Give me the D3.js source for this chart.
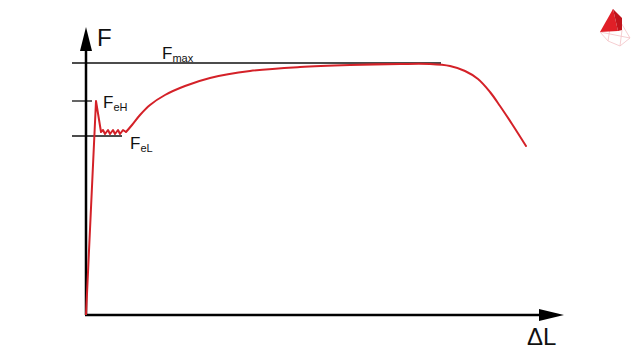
<!DOCTYPE html>
<html lang="en">
	<head>
		<meta charset="utf-8">
		<title>D3: Force-extension diagram</title>
		<script type="text/javascript" src="https://d3js.org/d3.v7.min.js"></script>
		<style type="text/css">
			body { margin: 0; background: #fff; }
			text { font-family: "Liberation Sans", Arial, sans-serif; fill: #111; }
		</style>
	</head>
	<body>
		<script type="text/javascript">

			//Width and height
			var w = 640;
			var h = 360;

			//Curve data: elongation (dL) and force (F), yield part drawn straight
			var yieldDL = [0, 10, 15, 17, 19, 22, 24, 27, 29, 32, 34, 37, 40];
			var yieldF  = [0, 214, 183, 185, 181, 185, 181, 185, 181, 185, 181, 185, 183];

			//Hardening and necking part drawn smooth
			var hardDL = [40, 46, 54, 64, 79, 99, 124, 164, 214, 264, 314, 344, 364, 379, 392, 404, 414, 426, 440];
			var hardF  = [183, 190, 200, 210, 220, 229, 237, 244, 248, 250, 251, 251, 249, 244, 236, 223, 209, 191, 169];

			//Reference levels
			var levelNames = ["max", "eH", "eL"];
			var levelF     = [252, 214, 179];
			var levelEnd   = [355, 6, 36];

			//Scales
			var x = d3.scaleLinear().domain([0, 477]).range([86, 563]);
			var y = d3.scaleLinear().domain([0, 287]).range([315, 28]);

			//Create SVG element
			var svg = d3.select("body")
			.append("svg")
			.attr("width", w)
			.attr("height", h);

			//Level lines
			svg.selectAll("line.level")
			   .data(levelF)
			   .enter()
			   .append("line")
			   .attr("class", "level")
			   .attr("x1", x(-14))
			   .attr("x2", function(d, i) { return x(levelEnd[i]); })
			   .attr("y1", function(d) { return y(d); })
			   .attr("y2", function(d) { return y(d); })
			   .attr("stroke", "#111")
			   .attr("stroke-width", 1.3);

			//Axes
			svg.append("line")
			   .attr("x1", x(0)).attr("y1", y(0))
			   .attr("x2", x(0)).attr("y2", y(270))
			   .attr("stroke", "#000").attr("stroke-width", 2.5);
			svg.append("line")
			   .attr("x1", x(0) - 1).attr("y1", y(0))
			   .attr("x2", x(460)).attr("y2", y(0))
			   .attr("stroke", "#000").attr("stroke-width", 2.5);

			//Arrow heads
			svg.append("path")
			   .attr("d", "M" + x(0) + "," + y(288) + "L" + (x(0) - 6) + "," + y(264) + "L" + (x(0) + 6) + "," + y(264) + "Z")
			   .attr("fill", "#000");
			svg.append("path")
			   .attr("d", "M" + x(478) + "," + y(0) + "L" + x(453) + "," + (y(0) - 6) + "L" + x(453) + "," + (y(0) + 6) + "Z")
			   .attr("fill", "#000");

			//Curve
			var lineLinear = d3.line()
			.x(function(d) { return x(d[0]); })
			.y(function(d) { return y(d[1]); });

			var lineSmooth = d3.line()
			.x(function(d) { return x(d[0]); })
			.y(function(d) { return y(d[1]); })
			.curve(d3.curveCatmullRom);

			svg.append("path")
			   .attr("d", lineLinear(d3.zip(yieldDL, yieldF)))
			   .attr("fill", "none")
			   .attr("stroke", "#d42128")
			   .attr("stroke-width", 2)
			   .attr("stroke-linejoin", "round");

			svg.append("path")
			   .attr("d", lineSmooth(d3.zip(hardDL, hardF)))
			   .attr("fill", "none")
			   .attr("stroke", "#d42128")
			   .attr("stroke-width", 2)
			   .attr("stroke-linecap", "round");

			//Labels
			svg.append("text")
			   .attr("x", 97).attr("y", 46)
			   .attr("font-size", 24)
			   .text("F");

			var labelPos = [[162, 59], [103, 108], [130, 149]];
			labelPos.forEach(function(p, i) {
				var t = svg.append("text")
				   .attr("x", p[0]).attr("y", p[1])
				   .attr("font-size", 17);
				t.append("tspan").text("F");
				t.append("tspan")
				 .attr("dy", 3)
				 .attr("font-size", 11)
				 .text(levelNames[i]);
			});

			svg.append("text")
			   .attr("x", 527).attr("y", 345)
			   .attr("font-size", 24)
			   .text("\u0394L");

			//Logo
			var logo = svg.append("g");
			logo.append("path")
			    .attr("d", "M600,32 L608,41 L620,46 L630,38 L613,9 M608,41 L613,9 M622,30 L620,46 M600,32 L630,38")
			    .attr("fill", "none")
			    .attr("stroke", "#f2c2c5")
			    .attr("stroke-width", 0.8);
			logo.append("path")
			    .attr("d", "M613,9 L600,32 L618,31 Z")
			    .attr("fill", "#e01f27");
			logo.append("path")
			    .attr("d", "M613,9 L622,18 L622,30 L618,31 Z")
			    .attr("fill", "#c0141c");

		</script>
	</body>
</html>
